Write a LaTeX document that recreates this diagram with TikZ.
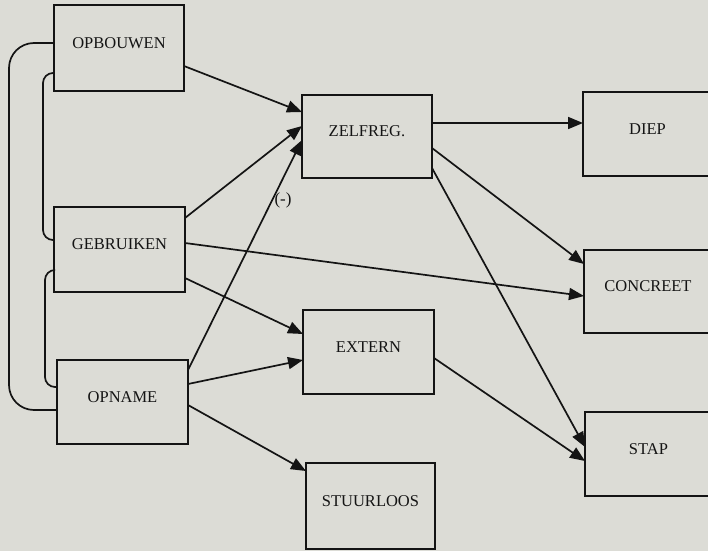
\documentclass[tikz,border=0pt]{standalone}
\usepackage{fontspec}
\setmainfont{Liberation Serif}
\usetikzlibrary{arrows.meta,calc}
\definecolor{paper}{HTML}{DCDCD6}
\definecolor{ink}{HTML}{141414}
\tikzset{
  stage/.style={draw=ink, line width=1.9pt, inner sep=0pt, outer sep=0pt},
  caption/.style={font=\fontsize{16.5}{19}\selectfont, text=ink, inner sep=0pt},
  link/.style={draw=ink, line width=1.7pt, -{Triangle[length=15pt,width=12pt]}},
  loop/.style={draw=ink, line width=1.7pt},
}
\newcommand{\stagebox}[5]{%
  \node[stage, minimum width=#3, minimum height=#4] (#1) at (#2) {};
  \node[caption] (#1-t) at ($(#1.center)+(0,-5)$) {#5};}
\begin{document}
\begin{tikzpicture}[x=1pt,y=-1pt]
  \fill[paper] (0,0) rectangle (708,551);
  \useasboundingbox (0,0) rectangle (708,551);

  % left column
  \stagebox{opb}{119,48}{130pt}{86pt}{OPBOUWEN}
  \stagebox{geb}{119.5,249.5}{131pt}{85pt}{GEBRUIKEN}
  \stagebox{opn}{122.5,402}{131pt}{84pt}{OPNAME}
  % middle column
  \stagebox{zel}{367,136.5}{130pt}{83pt}{ZELFREG.}
  \stagebox{ext}{368.5,352}{131pt}{84pt}{EXTERN}
  \stagebox{stu}{370.5,506}{129pt}{86pt}{STUURLOOS}
  % right column
  \stagebox{die}{647.5,134}{129pt}{84pt}{DIEP}
  \stagebox{con}{648,291.5}{128pt}{83pt}{CONCREET}
  \stagebox{sta}{648.5,454}{127pt}{84pt}{STAP}

  % feedback loops on the left
  \coordinate (lxa) at (9,0);
  \coordinate (lxb) at (43,0);
  \coordinate (lxc) at (45,0);
  \coordinate (oa) at ($(opb.north west)+(0,38)$);
  \coordinate (ob) at ($(opn.north west)+(0,50)$);
  \draw[loop, rounded corners=25pt] (oa) -- (oa -| lxa) -- (ob -| lxa) -- (ob);
  \coordinate (ia) at ($(opb.north west)+(0,68)$);
  \coordinate (ib) at ($(geb.north west)+(0,33)$);
  \draw[loop, rounded corners=10pt] (ia) -- (ia -| lxb) -- (ib -| lxb) -- (ib);
  \coordinate (ja) at ($(geb.north west)+(0,63)$);
  \coordinate (jb) at ($(opn.north west)+(0,27)$);
  \draw[loop, rounded corners=10pt] (ja) -- (ja -| lxc) -- (jb -| lxc) -- (jb);

  % arrows into the middle column
  \draw[link] ($(opb.north east)+(0,61)$) -- ($(zel.north west)+(0,17)$);
  \draw[link] ($(geb.north east)+(0,11)$) -- ($(zel.north west)+(0,31)$);
  \draw[link] ($(opn.north east)+(0,10)$) -- ($(zel.north west)+(0,45)$);
  \draw[link] ($(geb.north east)+(0,71)$) -- ($(ext.north west)+(0,24)$);
  \draw[link] ($(opn.north east)+(0,24)$) -- ($(ext.north west)+(0,50)$);
  \draw[link] ($(opn.north east)+(0,45)$) -- ($(stu.north west)+(0,8)$);
  \draw[link] ($(geb.north east)+(0,36)$) -- ($(con.north west)+(0,46)$);
  \node[caption, font=\fontsize{17}{19}\selectfont] (neg) at (283,200) {(-)};

  % arrows into the right column
  \draw[link] ($(zel.north east)+(0,28)$) -- ($(die.north west)+(0,31)$);
  \draw[link] ($(zel.north east)+(0,53)$) -- ($(con.north west)+(0,14)$);
  \draw[link] ($(zel.north east)+(0,73)$) -- ($(sta.north west)+(0,35)$);
  \draw[link] ($(ext.north east)+(0,48)$) -- ($(sta.north west)+(0,49)$);
\end{tikzpicture}
\end{document}
